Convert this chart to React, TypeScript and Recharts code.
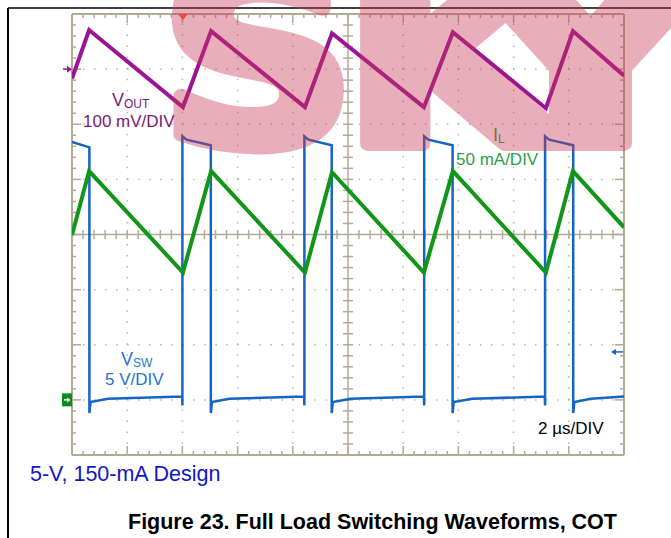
import React from 'react'
import { LineChart, Line, XAxis, YAxis, ReferenceLine, ReferenceDot } from 'recharts'

// scope settings: 2 us/div, 10 x 8 divisions
const timeDomain = [0, 20]
const gridTimes = [2, 4, 6, 8, 12, 14, 16, 18]
const gridDivs = [1, 2, 3, 5, 6, 7]

// channel scales (per div) and marker position (div from bottom)
const VOUT_DIV = 100
const VOUT_POS = 7
const IL_DIV = 50
const IL_POS = 1.87
const VSW_DIV = 5
const VSW_POS = 1
const TRIGGER_T = 4.02

// VOUT ripple, mV (AC coupled)
const voutTime = [0, 0.62, 4.02, 5.04, 8.44, 9.42, 12.75, 13.8, 17.17, 18.15, 20]
const voutMv = [-17, 71, -69, 69, -69, 65, -69, 67, -71, 69, -12]

// inductor current, mA
const ilTime = [0, 0.62, 4.02, 5.04, 8.44, 9.42, 12.75, 13.8, 17.17, 18.15, 20]
const ilMa = [106, 164, 72, 164, 72, 163, 72, 164, 72, 164, 113]

// switch node, V
const vswTime = [
  0, 0.63, 0.63, 0.67, 1.3, 3.99, 4.0, 4.0, 4.15, 5.03,
  5.03, 5.07, 5.7, 8.41, 8.42, 8.42, 8.57, 9.41,
  9.41, 9.45, 10.1, 12.75, 12.76, 12.76, 12.91, 13.79,
  13.79, 13.83, 14.5, 17.13, 17.14, 17.14, 17.29, 18.16,
  18.16, 18.2, 18.8, 20,
]
const vswV = [
  23.4, 22.9, -1.2, -0.2, 0.1, 0.3, -0.5, 23.9, 23.6, 23.1,
  -1.2, -0.2, 0.1, 0.3, -0.5, 23.9, 23.6, 23.1,
  -1.2, -0.2, 0.1, 0.3, -0.5, 23.9, 23.6, 23.1,
  -1.2, -0.2, 0.1, 0.3, -0.5, 23.9, 23.6, 23.1,
  -1.2, -0.2, 0.1, 0.3,
]

// watermark letters
const stamp = ['S', 'K', 'Y']

const zip = (t: number[], v: number[]) => t.map((x, i) => ({ t: x, v: v[i] }))
const voutData = zip(voutTime, voutMv)
const ilData = zip(ilTime, ilMa)
const vswData = zip(vswTime, vswV)

const dom = (perDiv: number, pos: number) => [-pos * perDiv, (8 - pos) * perDiv]

const W = 671
const H = 538
const M = { top: 14, right: 47, bottom: 83, left: 72 }
const PX_T = (W - M.left - M.right) / 20 // px per us
const PX_D = (H - M.top - M.bottom) / 8 // px per div
const tx = (px: number) => px / PX_T
const ty = (px: number) => px / PX_D

const FRAME = '#b4aa93'
const DOTS = '#bdb5a4'
const FONT = '"Liberation Sans", Arial, sans-serif'
const PINK = '#c83755'

const minorT = Array.from({ length: 51 }, (_, i) => i * 0.4)
const minorD = Array.from({ length: 41 }, (_, i) => i * 0.2)

function graticule() {
  const out: React.ReactNode[] = []
  gridTimes.forEach((x) =>
    out.push(<ReferenceLine key={'gx' + x} x={x} yAxisId="div" stroke={DOTS} strokeWidth={1.5} strokeDasharray="1.5 9.525" />)
  )
  gridDivs.forEach((y) =>
    out.push(<ReferenceLine key={'gy' + y} y={y} yAxisId="div" stroke={DOTS} strokeWidth={1.5} strokeDasharray="1.5 9.525" />)
  )
  out.push(<ReferenceLine key="cx" x={10} yAxisId="div" stroke={FRAME} strokeWidth={1.5} />)
  out.push(<ReferenceLine key="cy" y={4} yAxisId="div" stroke={FRAME} strokeWidth={1.5} />)
  minorT.forEach((x, i) => {
    const len = i % 5 === 0 ? 9 : 4
    out.push(<ReferenceLine key={'b' + i} yAxisId="div" stroke={FRAME} strokeWidth={1.5} segment={[{ x, y: 0 }, { x, y: ty(len) }]} />)
    out.push(<ReferenceLine key={'t' + i} yAxisId="div" stroke={FRAME} strokeWidth={1.5} segment={[{ x, y: 8 }, { x, y: 8 - ty(len) }]} />)
    if (i % 25 !== 0) {
      out.push(<ReferenceLine key={'ch' + i} yAxisId="div" stroke={FRAME} strokeWidth={1.5} segment={[{ x, y: 4 - ty(4.5) }, { x, y: 4 + ty(4.5) }]} />)
    }
  })
  minorD.forEach((y, i) => {
    const len = i % 5 === 0 ? 9 : 4
    out.push(<ReferenceLine key={'l' + i} yAxisId="div" stroke={FRAME} strokeWidth={1.5} segment={[{ x: 0, y }, { x: tx(len), y }]} />)
    out.push(<ReferenceLine key={'r' + i} yAxisId="div" stroke={FRAME} strokeWidth={1.5} segment={[{ x: 20, y }, { x: 20 - tx(len), y }]} />)
    if (i % 20 !== 0) {
      out.push(<ReferenceLine key={'cv' + i} yAxisId="div" stroke={FRAME} strokeWidth={1.5} segment={[{ x: 10 - tx(5), y }, { x: 10 + tx(5), y }]} />)
    }
  })
  // frame
  out.push(<ReferenceLine key="f0" x={0} yAxisId="div" stroke={FRAME} strokeWidth={2} />)
  out.push(<ReferenceLine key="f1" x={20} yAxisId="div" stroke={FRAME} strokeWidth={2} />)
  out.push(<ReferenceLine key="f2" y={0} yAxisId="div" stroke={FRAME} strokeWidth={2} />)
  out.push(<ReferenceLine key="f3" y={8} yAxisId="div" stroke={FRAME} strokeWidth={2} />)
  return out
}

const voutMarker = (p: any) => (
  <g>
    <path d={`M${p.cx - 9} ${p.cy} H${p.cx - 2}`} stroke="#9c1496" strokeWidth={1.5} />
    <path d={`M${p.cx - 5} ${p.cy - 3.5} L${p.cx} ${p.cy} L${p.cx - 5} ${p.cy + 3.5} Z`} fill="#9c1496" />
  </g>
)

const vswMarker = (p: any) => (
  <g>
    <rect x={p.cx - 10} y={p.cy - 6.5} width={10} height={13} fill="#0b8a1c" />
    <path d={`M${p.cx - 8} ${p.cy} H${p.cx - 3}`} stroke="#fff" strokeWidth={1.5} />
    <path d={`M${p.cx - 5} ${p.cy - 2.5} L${p.cx - 1.5} ${p.cy} L${p.cx - 5} ${p.cy + 2.5} Z`} fill="#fff" />
  </g>
)

const ilMarker = (p: any) => (
  <g>
    <path d={`M${p.cx - 12} ${p.cy} H${p.cx - 1}`} stroke="#1a5fc8" strokeWidth={1.5} />
    <path d={`M${p.cx - 8} ${p.cy - 3} L${p.cx - 13} ${p.cy} L${p.cx - 8} ${p.cy + 3} Z`} fill="#1a5fc8" />
  </g>
)

const trigMarker = (p: any) => (
  <path d={`M${p.cx - 5} ${p.cy} L${p.cx + 5} ${p.cy} L${p.cx} ${p.cy + 6} Z`} fill="#ff5a28" />
)

// per-letter placement of the watermark
const stampX = [160, 342, 468]
const stampLen = [196, 222, 245]

export default function App() {
  return (
    <div style={{ position: 'absolute', left: 0, top: 0, width: W, height: H, background: '#fff', overflow: 'hidden' }}>
      <LineChart width={W} height={H} margin={M}>
        <XAxis dataKey="t" type="number" domain={timeDomain} hide allowDataOverflow />
        <YAxis yAxisId="div" type="number" domain={[0, 8]} hide allowDataOverflow />
        <YAxis yAxisId="vout" type="number" domain={dom(VOUT_DIV, VOUT_POS)} hide allowDataOverflow />
        <YAxis yAxisId="il" type="number" domain={dom(IL_DIV, IL_POS)} hide allowDataOverflow />
        <YAxis yAxisId="vsw" type="number" domain={dom(VSW_DIV, VSW_POS)} hide allowDataOverflow />
        {graticule()}
        <Line data={vswData} yAxisId="vsw" dataKey="v" type="linear" stroke="#1565c4" strokeWidth={2.5} dot={false} isAnimationActive={false} />
        <Line data={ilData} yAxisId="il" dataKey="v" type="linear" stroke="#12961a" strokeWidth={4} dot={false} isAnimationActive={false} />
        <Line data={voutData} yAxisId="vout" dataKey="v" type="linear" stroke="#9c1496" strokeWidth={4} dot={false} isAnimationActive={false} />
        <ReferenceDot x={0} y={0} yAxisId="vout" ifOverflow="visible" shape={voutMarker} />
        <ReferenceDot x={0} y={0} yAxisId="vsw" ifOverflow="visible" shape={vswMarker} />
        <ReferenceDot x={20} y={0} yAxisId="il" ifOverflow="visible" shape={ilMarker} />
        <ReferenceDot x={TRIGGER_T} y={8} yAxisId="div" ifOverflow="visible" shape={trigMarker} />
      </LineChart>
      <svg width={W} height={H} style={{ position: 'absolute', left: 0, top: 0, pointerEvents: 'none' }} fontFamily={FONT}>
        <line x1={8} y1={8} x2={W} y2={8} stroke="#000" strokeWidth={1.5} />
        <line x1={8} y1={8} x2={8} y2={H} stroke="#000" strokeWidth={2} />
        <text x={112} y={106} fill="#7b1a7a" fontSize={18}>
          V<tspan fontSize={12} dy={2}>OUT</tspan>
        </text>
        <text x={83} y={127} fill="#7b1a7a" fontSize={17}>100 mV/DIV</text>
        <text x={493} y={141} fill="#2e9e46" fontSize={18}>
          I<tspan fontSize={12} dy={2}>L</tspan>
        </text>
        <text x={456} y={165} fill="#2e9e46" fontSize={17}>50 mA/DIV</text>
        <text x={121} y={365} fill="#2277cc" fontSize={18}>
          V<tspan fontSize={12} dy={2}>SW</tspan>
        </text>
        <text x={105} y={385} fill="#2277cc" fontSize={17}>5 V/DIV</text>
        <text x={538} y={434} fill="#000" fontSize={17}>2 µs/DIV</text>
        <text x={30} y={481} fill="#1414c8" fontSize={21.5}>5-V, 150-mA Design</text>
        <text x={128} y={529} fill="#000" fontSize={21.5} fontWeight="bold">Figure 23. Full Load Switching Waveforms, COT</text>
        <g fill={PINK} stroke={PINK} strokeWidth={14} strokeLinejoin="round" opacity={0.4} fontFamily='"DejaVu Sans", sans-serif' fontWeight="bold" fontSize={245}>
          {stamp.map((ch, i) => (
            <text key={ch} x={stampX[i]} y={144} textLength={stampLen[i]} lengthAdjust="spacingAndGlyphs">{ch}</text>
          ))}
        </g>
      </svg>
    </div>
  )
}
